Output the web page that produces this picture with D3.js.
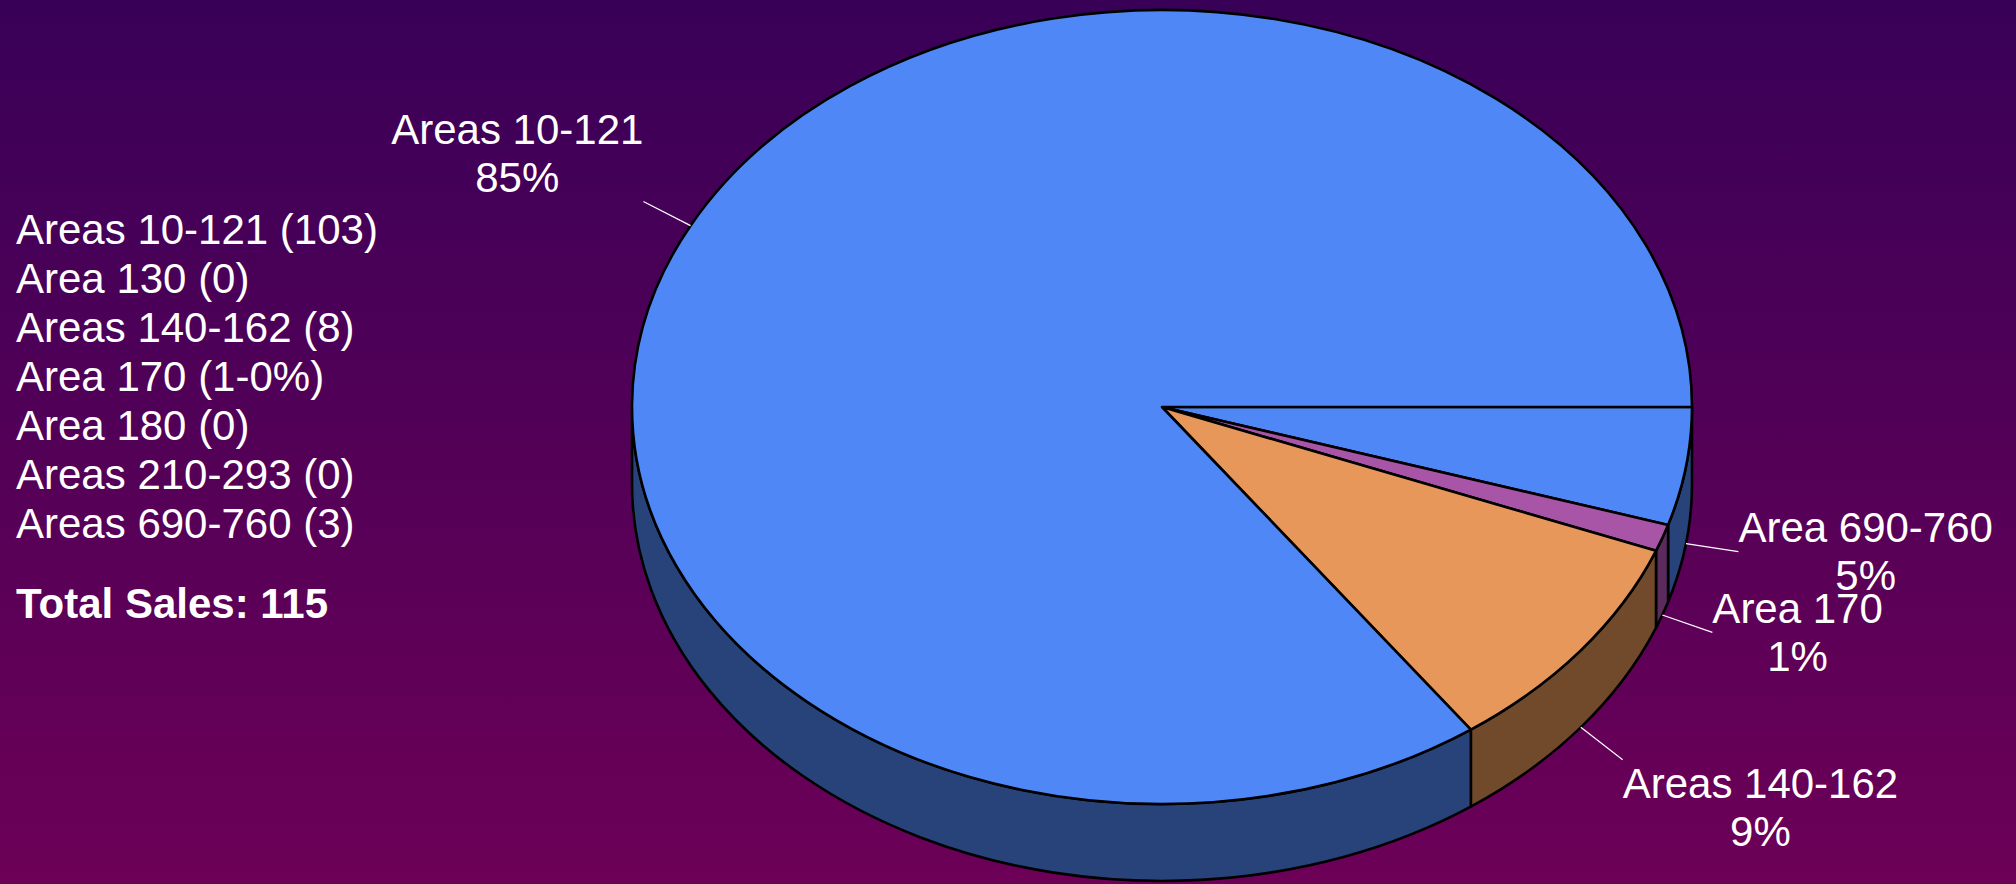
<!DOCTYPE html>
<html>
<head>
<meta charset="utf-8">
<script src="https://cdn.jsdelivr.net/npm/d3@7"></script>
<style>
  body { margin: 0; overflow: hidden; }
  text { font-family: "Liberation Sans", Arial, sans-serif; fill: white; }
</style>
</head>
<body>
<script>
// slices, clockwise from 3 o'clock (percent)
let sliceNames = ["Area 690-760", "Area 170", "Areas 140-162", "Areas 10-121"];
let sliceValues = [4.8, 1.1, 9.2, 84.9];
let topColours = ["#4f88f6", "#a855a8", "#e8975a", "#4f88f6"];
let sideColours = ["#27437a", "#5a2b5c", "#714a2b", "#27437a"];

// legend block on the left
let legendNames = ["Areas 10-121", "Area 130", "Areas 140-162", "Area 170", "Area 180", "Areas 210-293", "Areas 690-760"];
let legendCounts = ["103", "0", "8", "1-0%", "0", "0", "3"];
let totalSales = 115;

let w = 2016;
let h = 884;
let cx = 1162, cy = 407, rx = 530, ry = 397, depth = 77;

let svg = d3.select("body")
  .append("svg")
    .attr("width", w)
    .attr("height", h);

let grad = svg.append("defs")
  .append("linearGradient")
    .attr("id", "bg")
    .attr("x1", 0).attr("y1", 0)
    .attr("x2", 0).attr("y2", 1);
grad.append("stop").attr("offset", "0%").attr("stop-color", "#390058");
grad.append("stop").attr("offset", "100%").attr("stop-color", "#6d0057");

svg.append("rect")
  .attr("width", w)
  .attr("height", h)
  .attr("fill", "url(#bg)");

// legend
let legend = svg.append("g").attr("id", "legend");
for (let i = 0; i < legendNames.length; i += 1) {
  legend.append("text")
    .attr("x", 16)
    .attr("y", 244 + 49 * i)
    .attr("font-size", 42)
    .text(legendNames[i] + " (" + legendCounts[i] + ")");
}
legend.append("text")
  .attr("x", 16)
  .attr("y", 618)
  .attr("font-size", 42)
  .attr("font-weight", "bold")
  .text("Total Sales: " + totalSales);

// pie layout, starting at 3 o'clock and going clockwise
let pie = d3.pie()
  .sort(null)
  .startAngle(Math.PI / 2)
  .endAngle(Math.PI / 2 + 2 * Math.PI);
let arcs = pie(sliceValues);

function pt(t, dy) {
  return [cx + rx * Math.cos(t), cy + ry * Math.sin(t) + dy];
}

// side walls (only the front half shows)
let sides = svg.append("g").attr("id", "sides");
for (let i = 0; i < arcs.length; i += 1) {
  let a0 = Math.max(arcs[i].startAngle - Math.PI / 2, 0);
  let a1 = Math.min(arcs[i].endAngle - Math.PI / 2, Math.PI);
  if (a1 <= a0) continue;
  let p0 = pt(a0, 0), p1 = pt(a1, 0), q1 = pt(a1, depth), q0 = pt(a0, depth);
  let d = "M" + p0 + " A" + rx + "," + ry + " 0 0 1 " + p1 +
          " L" + q1 + " A" + rx + "," + ry + " 0 0 0 " + q0 + " Z";
  sides.append("path")
    .attr("d", d)
    .attr("fill", sideColours[i])
    .attr("stroke", "black")
    .attr("stroke-width", 2.6)
    .attr("stroke-linejoin", "round");
}

// top face: circular arcs squashed into the ellipse
let arc = d3.arc().innerRadius(0).outerRadius(rx);
let tops = svg.append("g")
  .attr("id", "tops")
  .attr("transform", "translate(" + cx + "," + cy + ") scale(1," + (ry / rx) + ")");
for (let i = 0; i < arcs.length; i += 1) {
  tops.append("path")
    .attr("d", arc(arcs[i]))
    .attr("fill", topColours[i])
    .attr("stroke", "black")
    .attr("stroke-width", 2.6)
    .attr("stroke-linejoin", "round")
    .attr("vector-effect", "non-scaling-stroke");
}

// data labels with leader lines
let fmt = d3.format(".0%");
let total = d3.sum(sliceValues);
let labels = svg.append("g").attr("id", "labels");
for (let i = 0; i < arcs.length; i += 1) {
  let m = (arcs[i].startAngle + arcs[i].endAngle) / 2 - Math.PI / 2;
  let s = Math.sin(m), c = Math.cos(m);
  let start = pt(m, s > 0 ? depth : 0);
  let end = [start[0] + 53 * c, start[1] + 53 * s];

  labels.append("line")
    .attr("x1", start[0]).attr("y1", start[1])
    .attr("x2", end[0]).attr("y2", end[1])
    .attr("stroke", "white")
    .attr("stroke-width", 1.2);

  let g = labels.append("g");
  g.append("text")
    .attr("text-anchor", "middle")
    .attr("font-size", 42)
    .text(sliceNames[i]);
  g.append("text")
    .attr("text-anchor", "middle")
    .attr("y", 48)
    .attr("font-size", 42)
    .text(fmt(sliceValues[i] / total));

  let b = g.node().getBBox();
  let tx = c > 0 ? end[0] - b.x : end[0] - (b.x + b.width);
  let ty;
  if (Math.abs(s) < 0.4) ty = end[1] - (b.y + b.height / 2);
  else if (s > 0) ty = end[1] - b.y;
  else ty = end[1] - (b.y + b.height);
  g.attr("transform", "translate(" + tx + "," + ty + ")");
}
</script>
</body>
</html>
